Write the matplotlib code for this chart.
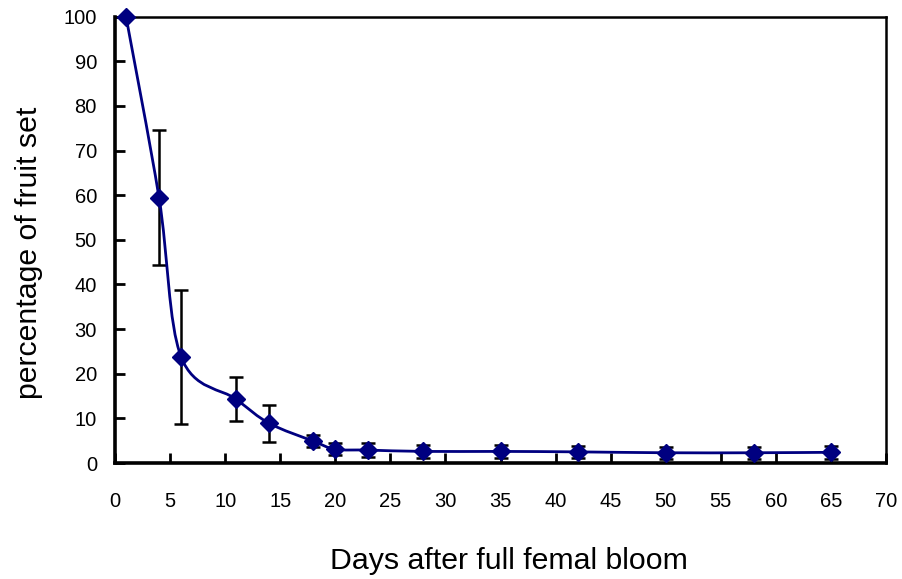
import numpy as np
import matplotlib
matplotlib.use("Agg")
import matplotlib.pyplot as plt
from matplotlib.path import Path
from matplotlib.patches import PathPatch

plt.rcParams["font.family"] = ["Liberation Sans", "DejaVu Sans"]

# data
days = [1, 4, 6, 11, 14, 18, 20, 23, 28, 35, 42, 50, 58, 65]
fruit_set = [100, 59.4, 23.8, 14.3, 8.9, 4.9, 3.1, 2.9, 2.6, 2.6, 2.5, 2.3, 2.3, 2.4]
err = [0, 15.1, 15.0, 4.9, 4.2, 1.3, 1.4, 1.5, 1.5, 1.5, 1.4, 1.4, 1.4, 1.4]

x_ticks = list(range(0, 71, 5))
y_ticks = list(range(0, 101, 10))

navy = "#000080"


def smooth_path(xs, ys):
    # catmull-rom segments as cubic bezier, like the spreadsheet "smoothed line"
    pts = np.column_stack([xs, ys]).astype(float)
    ext = np.vstack([pts[0], pts, pts[-1]])
    verts = [pts[0]]
    codes = [Path.MOVETO]
    for i in range(1, len(ext) - 2):
        p0, p1, p2, p3 = ext[i - 1], ext[i], ext[i + 1], ext[i + 2]
        verts += [p1 + (p2 - p0) / 6, p2 - (p3 - p1) / 6, p2]
        codes += [Path.CURVE4] * 3
    return Path(verts, codes)


fig = plt.figure(figsize=(9.02, 5.79), dpi=100)
ax = fig.add_axes([0.1275, 0.2003, 0.8548, 0.7709])

ax.errorbar(days, fruit_set, yerr=err, fmt="none", ecolor="black",
            elinewidth=1.8, capsize=5, capthick=1.8, zorder=2)
ax.add_patch(PathPatch(smooth_path(days, fruit_set), facecolor="none",
                       edgecolor=navy, lw=2, zorder=3))
ax.plot(days, fruit_set, linestyle="none", marker="D", markersize=9.5,
        color=navy, zorder=4, clip_on=False)

ax.set_xlim(0, 70)
ax.set_ylim(0, 100)
ax.set_xticks(x_ticks)
ax.set_yticks(y_ticks)
ax.tick_params(direction="in", length=7, width=2, labelsize=14.5)
ax.tick_params(axis="x", pad=21)
ax.tick_params(axis="y", pad=13)
for side in ["left", "bottom"]:
    ax.spines[side].set_linewidth(2.6)
for side in ["top", "right"]:
    ax.spines[side].set_linewidth(1.8)

ax.set_xlabel("Days after full femal bloom", fontsize=21.8, labelpad=26)
ax.set_ylabel("percentage of fruit set", fontsize=21.8, labelpad=15)
ax.xaxis.label.set_x(0.511)
ax.yaxis.label.set_y(0.471)

fig.savefig("out.png", dpi=100)
